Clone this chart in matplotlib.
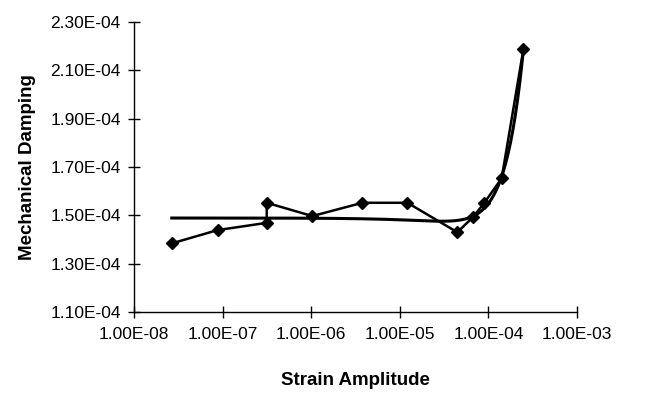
import numpy as np
import matplotlib
matplotlib.use("Agg")
import matplotlib.pyplot as plt
from matplotlib.ticker import FuncFormatter

plt.rcParams['font.family'] = ['Liberation Sans', 'DejaVu Sans']

# measured points (strain amplitude, mechanical damping)
strain = [2.67e-8, 8.8e-8, 3.15e-7, 3.15e-7, 1.03e-6, 3.78e-6, 1.22e-5,
          4.46e-5, 6.76e-5, 9.0e-5, 1.41e-4, 2.48e-4]
damping = [1.384e-4, 1.439e-4, 1.469e-4, 1.552e-4, 1.497e-4, 1.552e-4, 1.552e-4,
           1.430e-4, 1.494e-4, 1.552e-4, 1.653e-4, 2.187e-4]

y_ticks = [1.1e-4, 1.3e-4, 1.5e-4, 1.7e-4, 1.9e-4, 2.1e-4, 2.3e-4]
x_ticks = [1e-8, 1e-7, 1e-6, 1e-5, 1e-4, 1e-3]


def sci(v, pos=None):
    # Excel style 1.00E-08
    return "%.2E" % v


fig = plt.figure(figsize=(6.59, 3.96), dpi=100)
ax = fig.add_axes([0.2033, 0.2121, 0.6723, 0.7323])

# polynomial trendline (linear strain, 2nd order) like the spreadsheet one
x = np.array(strain)
y = np.array(damping)
coef = np.polyfit(x / 1e-4, y, 2)
xt = np.logspace(np.log10(x.min()), np.log10(x.max()), 300)
ax.plot(xt, np.polyval(coef, xt / 1e-4), color='black', lw=2.2, zorder=2)

ax.plot(strain, damping, color='black', lw=1.8, marker='D', markersize=6,
        zorder=3)

ax.set_xscale('log')
ax.set_xlim(1e-8, 1e-3)
ax.set_ylim(1.1e-4, 2.3e-4)
ax.set_xticks(x_ticks)
ax.set_yticks(y_ticks)
ax.xaxis.set_minor_locator(plt.NullLocator())
ax.xaxis.set_major_formatter(FuncFormatter(sci))
ax.yaxis.set_major_formatter(FuncFormatter(sci))

for s in ['top', 'right']:
    ax.spines[s].set_visible(False)
ax.spines['left'].set_linewidth(1.0)
ax.spines['bottom'].set_linewidth(1.0)
ax.tick_params(direction='inout', length=9, width=1.0, labelsize=12.5)
ax.tick_params(axis='x', pad=6)
ax.tick_params(axis='y', pad=5)

ax.set_xlabel('Strain Amplitude', fontsize=13.5, fontweight='bold', labelpad=22)
ax.set_ylabel('Mechanical Damping', fontsize=13.5, fontweight='bold', labelpad=10)

fig.savefig('out.png', dpi=100)
